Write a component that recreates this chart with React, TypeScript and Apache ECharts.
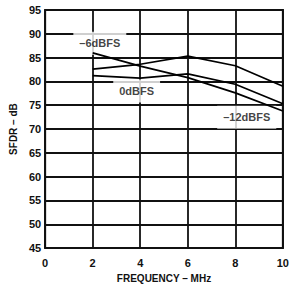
import React, { useEffect, useRef } from "react";
import * as echarts from "echarts";

const freqs = [2, 4, 6, 8, 10];
const lineA = [86.0, 83.2, 80.8, 77.6, 73.8];
const lineB = [82.6, 83.6, 85.3, 83.3, 79.0];
const lineC = [81.2, 80.7, 81.6, 79.4, 75.3];
const xTicks = { min: 0, max: 10, interval: 2 };
const yTicks = { min: 45, max: 95, interval: 5 };
const annotations: [number, number, string][] = [
  [2.3, 88.0, "\u20136dBFS"],
  [3.85, 78.0, "0dBFS"],
  [8.48, 72.5, "\u201312dBFS"],
];

const FONT = "'Liberation Sans', Arial, sans-serif";

export default function App() {
  const ref = useRef<HTMLDivElement>(null);
  useEffect(() => {
    if (!ref.current) return;
    const chart = echarts.init(ref.current, undefined, { renderer: "svg" });
    const mk = (vals: number[]) => freqs.map((f, i) => [f, vals[i]]);
    const lineSeries = (vals: number[]) => ({
      type: "line",
      data: mk(vals),
      symbol: "none",
      z: 3,
      lineStyle: { color: "#000", width: 1.7 },
    });
    chart.setOption({
      animation: false,
      backgroundColor: "#fff",
      grid: {
        left: 44,
        right: 5,
        top: 10,
        bottom: 36,
        show: true,
        borderColor: "#000",
        borderWidth: 2,
        backgroundColor: "#fff",
      },
      xAxis: {
        type: "value",
        ...xTicks,
        name: "FREQUENCY \u2013 MHz",
        nameLocation: "middle",
        nameGap: 23,
        nameTextStyle: { fontFamily: FONT, fontWeight: "bold", fontSize: 10, color: "#111" },
        axisLine: { show: false },
        axisTick: { show: false },
        axisLabel: { fontFamily: FONT, fontWeight: "bold", fontSize: 11, color: "#111", margin: 9 },
        splitLine: { show: true, lineStyle: { color: "#111", width: 1.8 } },
      },
      yAxis: {
        type: "value",
        ...yTicks,
        name: "SFDR \u2013 dB",
        nameLocation: "middle",
        nameGap: 22,
        nameTextStyle: { fontFamily: FONT, fontWeight: "bold", fontSize: 10, color: "#111" },
        axisLine: { show: false },
        axisTick: { show: false },
        axisLabel: { fontFamily: FONT, fontWeight: "bold", fontSize: 11, color: "#111", margin: 4 },
        splitLine: { show: true, lineStyle: { color: "#111", width: 1.8 } },
      },
      series: [
        lineSeries(lineA),
        lineSeries(lineB),
        lineSeries(lineC),
        {
          type: "scatter",
          z: 1,
          symbolSize: 0,
          data: annotations.map((a) => ({ value: [a[0], a[1]], name: a[2] })),
          label: {
            show: true,
            position: "inside",
            formatter: (p: any) => p.name,
            fontFamily: FONT,
            fontWeight: "bold",
            fontSize: 11,
            color: "#111",
            backgroundColor: "#fff",
            padding: [8, 6, 4, 6],
          },
        },
      ],
    });
    return () => chart.dispose();
  }, []);
  return (
    <div
      ref={ref}
      style={{ position: "fixed", left: 0, top: 0, width: 292, height: 288 }}
    />
  );
}
